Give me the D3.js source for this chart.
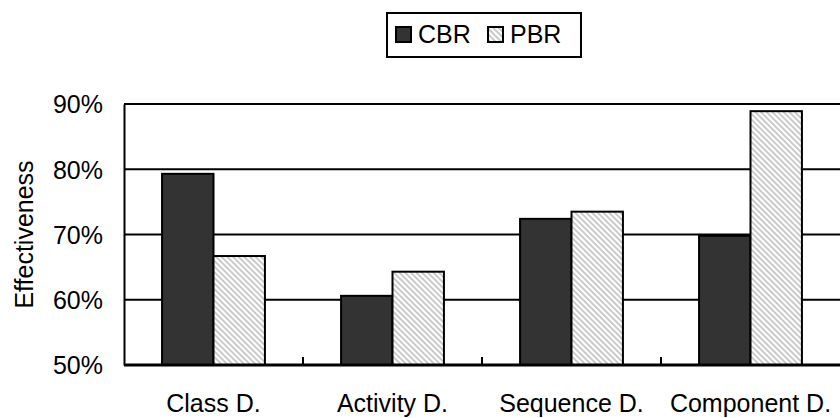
<!DOCTYPE html>
<html lang="en">
<head>
    <meta charset="UTF-8">
    <title>CBR vs PBR Effectiveness</title>
    <script src="https://d3js.org/d3.v7.min.js"></script>
    <style>
        body {
            margin: 0;
            background: #fff;
            font-family: Arial, "Liberation Sans", sans-serif;
        }
        svg text {
            font-family: Arial, "Liberation Sans", sans-serif;
            fill: #000;
        }
    </style>
</head>
<body>
    <svg id="chart" width="840" height="418"></svg>
    <script>
        const categories = ["Class D.", "Activity D.", "Sequence D.", "Component D."];
        const seriesNames = ["CBR", "PBR"];
        const cbrValues = [0.793, 0.606, 0.724, 0.698];
        const pbrValues = [0.667, 0.643, 0.735, 0.889];
        const yTicks = [0.5, 0.6, 0.7, 0.8, 0.9];

        const margin = { top: 104, right: 0, bottom: 53, left: 124 };
        const width = 840 - margin.left - margin.right;
        const height = 418 - margin.top - margin.bottom;

        const svg = d3.select("#chart");

        // hatch for PBR
        const defs = svg.append("defs");
        defs.append("pattern")
            .attr("id", "hatch")
            .attr("patternUnits", "userSpaceOnUse")
            .attr("width", 4)
            .attr("height", 4)
            .attr("patternTransform", "rotate(-45)")
            .call(p => p.append("rect").attr("width", 4).attr("height", 4).attr("fill", "#fff"))
            .append("line")
            .attr("x1", 1).attr("y1", 0)
            .attr("x2", 1).attr("y2", 4)
            .attr("stroke", "#b4b4b4")
            .attr("stroke-width", 1.4);

        const fills = { CBR: "#333333", PBR: "url(#hatch)" };

        const g = svg.append("g")
            .attr("transform", `translate(${margin.left},${margin.top})`);

        const x0 = d3.scaleBand().domain(categories).range([0, width]).padding(0);
        const x1 = d3.scaleBand().domain(seriesNames).range([0, x0.bandwidth()])
            .paddingInner(0).paddingOuter(0.74);
        const y = d3.scaleLinear().domain([0.5, 0.9]).range([height, 0]);

        // gridlines
        g.selectAll("line.grid")
            .data(yTicks.slice(1))
            .enter().append("line")
            .attr("x1", 0).attr("x2", width)
            .attr("y1", d => y(d)).attr("y2", d => y(d))
            .attr("stroke", "#000")
            .attr("stroke-width", 2);

        const rows = categories.map((c, i) => ({ cat: c, CBR: cbrValues[i], PBR: pbrValues[i] }));

        g.selectAll("g.cat")
            .data(rows)
            .enter().append("g")
            .attr("transform", d => `translate(${x0(d.cat)},0)`)
            .selectAll("rect")
            .data(d => seriesNames.map(s => ({ s, v: d[s] })))
            .enter().append("rect")
            .attr("x", d => x1(d.s))
            .attr("y", d => y(d.v))
            .attr("width", x1.bandwidth())
            .attr("height", d => y(0.5) - y(d.v))
            .attr("fill", d => fills[d.s])
            .attr("stroke", "#000")
            .attr("stroke-width", 2);

        // y axis
        const yAxis = g.append("g")
            .call(d3.axisLeft(y).tickValues(yTicks).tickFormat(d3.format(".0%")).tickSize(0).tickPadding(21));
        yAxis.select(".domain").attr("stroke-width", 2);
        yAxis.selectAll("text").style("font-size", "25px").attr("dy", "0.35em");

        // x axis: inner ticks at category boundaries
        g.append("line")
            .attr("x1", 0).attr("x2", width)
            .attr("y1", height).attr("y2", height)
            .attr("stroke", "#000").attr("stroke-width", 3);
        g.selectAll("line.xtick")
            .data(categories.slice(1))
            .enter().append("line")
            .attr("x1", d => x0(d)).attr("x2", d => x0(d))
            .attr("y1", height).attr("y2", height - 8)
            .attr("stroke", "#000").attr("stroke-width", 2);
        g.selectAll("text.xlab")
            .data(categories)
            .enter().append("text")
            .attr("x", d => x0(d) + x0.bandwidth() / 2)
            .attr("y", height + 47)
            .attr("text-anchor", "middle")
            .style("font-size", "25px")
            .text(d => d);

        // y label
        svg.append("text")
            .attr("transform", `translate(33,${margin.top + height / 2}) rotate(-90)`)
            .attr("text-anchor", "middle")
            .style("font-size", "25px")
            .text("Effectiveness");

        // legend
        const legend = svg.append("g");
        legend.append("rect")
            .attr("x", 387).attr("y", 13)
            .attr("width", 194).attr("height", 44)
            .attr("fill", "#fff").attr("stroke", "#000").attr("stroke-width", 2);
        const items = [{ s: "CBR", x: 396 }, { s: "PBR", x: 488 }];
        items.forEach(it => {
            legend.append("rect")
                .attr("x", it.x).attr("y", 27)
                .attr("width", 15).attr("height", 15)
                .attr("fill", fills[it.s]).attr("stroke", "#000").attr("stroke-width", 2);
            legend.append("text")
                .attr("x", it.x + 22).attr("y", 43)
                .style("font-size", "25px")
                .text(it.s);
        });
    </script>
</body>
</html>
